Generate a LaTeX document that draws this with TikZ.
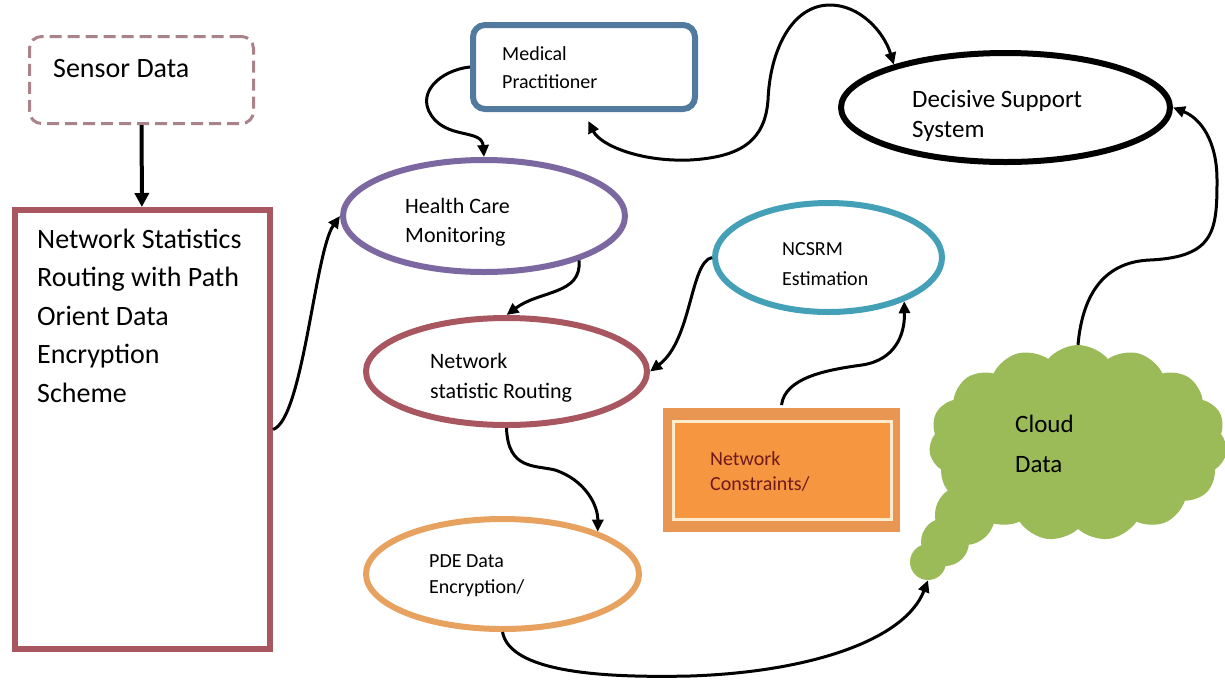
\documentclass[tikz,border=0pt]{standalone}
\usepackage{fontspec}
\setmainfont{Carlito}
\usetikzlibrary{arrows.meta,shapes.geometric,shapes.symbols}
\definecolor{sensorc}{RGB}{170,130,138}
\definecolor{roseline}{RGB}{168,86,96}
\definecolor{medblue}{RGB}{82,122,158}
\definecolor{hcpurple}{RGB}{124,104,160}
\definecolor{pdeorange}{RGB}{232,162,96}
\definecolor{ncteal}{RGB}{68,160,182}
\definecolor{ncframe}{RGB}{232,150,82}
\definecolor{ncfill}{RGB}{246,150,64}
\definecolor{nccream}{RGB}{255,236,204}
\definecolor{nctext}{RGB}{110,26,26}
\definecolor{cloudgreen}{RGB}{155,187,89}
\tikzset{
  box/.style={rectangle,line width=6pt,inner sep=0pt},
  oval/.style={ellipse,line width=6pt,inner sep=0pt},
  lbl/.style={anchor=north west,inner sep=0pt,align=left},
  link/.style={line width=3pt,-{Triangle[length=12pt,width=11pt]}},
  puff/.style={circle,fill=cloudgreen,inner sep=0pt}
}
\begin{document}
\begin{tikzpicture}[x=1pt,y=-1pt]
	\useasboundingbox (0,0) rectangle (1225,681);
	\node[box,draw=sensorc,line width=3pt,dash pattern=on 12pt off 6pt,rounded corners=12pt,minimum width=224pt,minimum height=87pt] (sensor) at (141.5,80) {};
	\node[box,draw=roseline,minimum width=255pt,minimum height=439pt] (netbox) at (142.5,429.5) {};
	\node[box,draw=medblue,rounded corners=12pt,minimum width=222pt,minimum height=84pt] (med) at (584,67) {};
	\node[oval,draw=hcpurple,minimum width=282pt,minimum height=112pt] (hcm) at (484,216) {};
	\node[oval,draw=roseline,minimum width=281pt,minimum height=107pt] (nsr) at (506.5,371.5) {};
	\node[oval,draw=pdeorange,minimum width=273pt,minimum height=110pt] (pde) at (502.5,574) {};
	\node[oval,draw=ncteal,minimum width=227pt,minimum height=109pt] (ncsrm) at (828.5,257.5) {};
	\node[oval,draw=black,minimum width=329pt,minimum height=109pt] (dss) at (1005.5,107.5) {};
	\node[box,fill=ncframe,minimum width=237pt,minimum height=124pt] (ncon) at (781.5,470) {};
	\node[box,fill=ncfill,draw=nccream,line width=3pt,minimum width=218pt,minimum height=98pt] (ncin) at (782,470) {};
	\node[puff,minimum size=60pt] (puffa) at (965,515) {};
	\node[puff,minimum size=48pt] (puffb) at (945,542) {};
	\node[puff,minimum size=36pt] (tail) at (928,562) {};
	\node[cloud,cloud puffs=15,cloud puff arc=100,aspect=1.5,fill=cloudgreen,inner sep=0pt,minimum width=298pt,minimum height=196pt] (cloud) at (1078,443) {};

	\node[lbl,font=\fontsize{28}{38.5}\selectfont] (sensor-t) at (53,59) {Sensor Data};
	\node[lbl,font=\fontsize{28}{38.5}\selectfont] (netbox-t) at (37,228.7) {Network Statistics\\Routing with Path\\Orient Data\\Encryption\\Scheme};
	\node[lbl,font=\fontsize{20}{28}\selectfont] (med-t) at (502,46.2) {Medical\\Practitioner};
	\node[lbl,font=\fontsize{22}{29}\selectfont] (hcm-t) at (405,197.8) {Health Care\\Monitoring};
	\node[lbl,font=\fontsize{22}{30}\selectfont] (nsr-t) at (430,352.8) {Network\\statistic Routing};
	\node[lbl,font=\fontsize{20}{26}\selectfont] (pde-t) at (429,554.1) {PDE Data\\Encryption/};
	\node[lbl,font=\fontsize{20}{30}\selectfont] (ncsrm-t) at (782,242.1) {NCSRM\\Estimation};
	\node[lbl,font=\fontsize{25}{30}\selectfont] (dss-t) at (912,90.5) {Decisive Support\\System};
	\node[lbl,font=\fontsize{20}{25}\selectfont,text=nctext] (ncon-t) at (710,451.2) {Network\\Constraints/};
	\node[lbl,font=\fontsize{25}{40}\selectfont] (cloud-t) at (1015,414.8) {Cloud\\Data};

	\draw[link,line width=4pt,-{Triangle[length=14pt,width=14pt]}] (sensor) -- (netbox);
	\draw[link] (netbox.east) .. controls +(30,-10) and +(-25,35) .. (hcm.west);
	\draw[link] (med.west) .. controls (440,70) and (412,95) .. (435,120) .. controls (452,138) and (482,130) .. (hcm.north);
	\draw[link] (hcm.-25) .. controls (582,295) and (540,290) .. (nsr.north);
	\draw[link] (ncsrm.west) .. controls (690,262) and (692,340) .. (nsr.east);
	\draw[link] (ncon.north) .. controls (785,378) and (825,370) .. (862,365) .. controls (895,360) and (905,335) .. (ncsrm.-30);
	\draw[link] (nsr.south) .. controls (508,470) and (535,465) .. (555,470) .. controls (585,480) and (598,505) .. (pde.24);
	\draw[link] (pde.south) .. controls (510,672) and (600,678) .. (690,676) .. controls (810,672) and (905,640) .. (tail.south);
	\draw[link] (cloud.north) .. controls (1082,300) and (1100,262) .. (1150,260) .. controls (1215,257) and (1217,230) .. (1217,180) .. controls (1217,140) and (1200,118) .. (dss.east);
	\draw[link,{Triangle[length=12pt,width=11pt]}-{Triangle[length=12pt,width=11pt]},shorten <=10pt] (med.south) .. controls (600,145) and (640,162) .. (690,160) .. controls (742,157) and (765,140) .. (768,100) .. controls (770,50) and (792,5) .. (830,5) .. controls (860,5) and (884,32) .. (dss.159);
\end{tikzpicture}
\end{document}
